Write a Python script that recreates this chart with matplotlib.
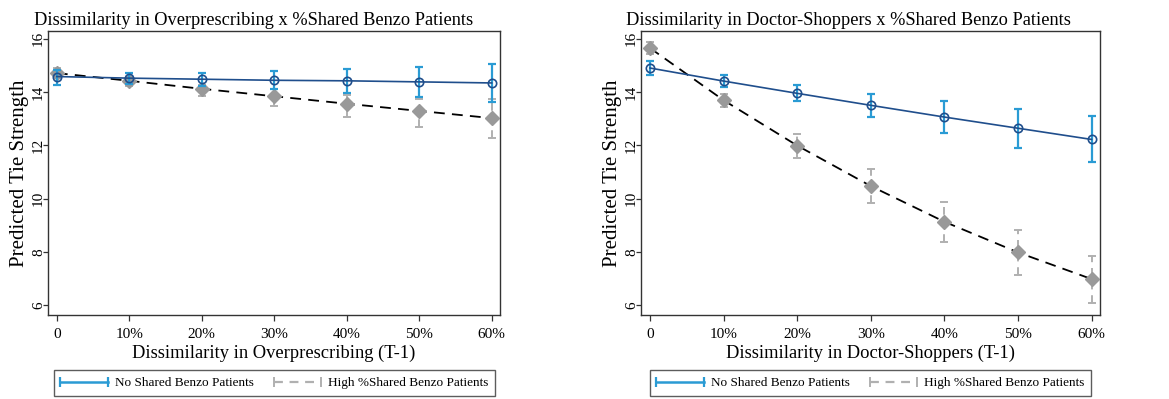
import matplotlib
matplotlib.use("Agg")
import matplotlib.pyplot as plt
from matplotlib.lines import Line2D
from matplotlib.legend_handler import HandlerLine2D
import numpy as np

plt.rcParams['font.family'] = ['Liberation Serif', 'DejaVu Serif']

x_vals = [0, 10, 20, 30, 40, 50, 60]
x_labels = ["0", "10%", "20%", "30%", "40%", "50%", "60%"]

# Left panel: Overprescribing
op_none = [14.58, 14.52, 14.48, 14.44, 14.42, 14.38, 14.34]
op_none_lo = [14.28, 14.31, 14.22, 14.12, 13.95, 13.80, 13.63]
op_none_hi = [14.82, 14.71, 14.71, 14.77, 14.86, 14.94, 15.04]
op_high = [14.71, 14.42, 14.12, 13.84, 13.56, 13.29, 13.02]
op_high_lo = [14.52, 14.22, 13.85, 13.46, 13.08, 12.67, 12.28]
op_high_hi = [14.90, 14.56, 14.27, 14.10, 13.88, 13.75, 13.72]

# Right panel: Doctor-Shoppers
ds_none = [14.90, 14.41, 13.95, 13.50, 13.06, 12.64, 12.22]
ds_none_lo = [14.64, 14.19, 13.65, 13.05, 12.46, 11.90, 11.36]
ds_none_hi = [15.16, 14.62, 14.25, 13.94, 13.65, 13.38, 13.10]
ds_high = [15.65, 13.69, 11.99, 10.47, 9.13, 7.98, 6.98]
ds_high_lo = [15.43, 13.45, 11.54, 9.82, 8.38, 7.14, 6.08]
ds_high_hi = [15.88, 13.91, 12.41, 11.10, 9.89, 8.82, 7.86]

titles = ["Dissimilarity in Overprescribing x %Shared Benzo Patients",
          "Dissimilarity in Doctor-Shoppers x %Shared Benzo Patients"]
xlabels = ["Dissimilarity in Overprescribing (T-1)",
           "Dissimilarity in Doctor-Shoppers (T-1)"]
legend_labels = ["No Shared Benzo Patients", "High %Shared Benzo Patients"]

panels = [
    (op_none, op_none_lo, op_none_hi, op_high, op_high_lo, op_high_hi),
    (ds_none, ds_none_lo, ds_none_hi, ds_high, ds_high_lo, ds_high_hi),
]

BLUE_LINE = "#1f4e8c"
BLUE_CI = "#2a9bd4"
GRAY_MK = "#999999"
GRAY_CI = "#b0b0b0"

fig = plt.figure(figsize=(11.69, 3.99), dpi=100)
rects = [[0.041, 0.2105, 0.3867, 0.7125], [0.5483, 0.2105, 0.3927, 0.7125]]
title_x = [0.2169, 0.7258]
legend_x = [0.2348, 0.7447]

for i, (rect, data) in enumerate(zip(rects, panels)):
    n, nlo, nhi, h, hlo, hhi = [np.array(d, dtype=float) for d in data]
    ax = fig.add_axes(rect)
    xa = np.array(x_vals, dtype=float)
    # High shared: gray dashed CI
    eb = ax.errorbar(xa, h, yerr=[h - hlo, hhi - h], fmt='none', ecolor=GRAY_CI,
                     elinewidth=1.4, capsize=2.7, capthick=1.4, zorder=2)
    for lc in eb[2]:
        lc.set_linestyle((0, (4, 3)))
    ax.plot(xa, h, color='black', linestyle=(0, (6, 4)), linewidth=1.3, zorder=3)
    ax.plot(xa, h, linestyle='none', marker='D', markersize=7, color=GRAY_MK,
            markeredgecolor=GRAY_MK, zorder=4)
    # No shared: blue
    ax.errorbar(xa, n, yerr=[n - nlo, nhi - n], fmt='none', ecolor=BLUE_CI,
                elinewidth=1.6, capsize=2.7, capthick=1.6, zorder=5)
    ax.plot(xa, n, color=BLUE_LINE, linewidth=1.2, marker='o', markersize=6,
            markerfacecolor='none', markeredgecolor=BLUE_LINE, markeredgewidth=1.2,
            zorder=6)

    ax.set_xlim(-1.23, 61.15)
    ax.set_ylim(5.63, 16.3)
    ax.set_xticks(x_vals)
    ax.set_xticklabels(x_labels, fontsize=11)
    ax.set_yticks([6, 8, 10, 12, 14, 16])
    ax.set_yticklabels(["6", "8", "10", "12", "14", "16"], fontsize=11,
                       rotation=90, va='center')
    ax.tick_params(axis='both', direction='out', length=4, width=0.9, colors='#333333',
                   labelcolor='black')
    ax.tick_params(axis='x', pad=5.5)
    ax.tick_params(axis='y', pad=-1.5, length=3.6)
    for s in ax.spines.values():
        s.set_linewidth(1.0)
        s.set_color('#333333')
    fig.text(title_x[i], 0.948, titles[i], fontsize=13.2, ha='center', va='center')
    ax.set_xlabel(xlabels[i], fontsize=13.3, labelpad=2.5)
    ax.set_ylabel("Predicted Tie Strength", fontsize=15)
    ax.yaxis.set_label_coords(-0.042, 0.5)

    handles = [
        Line2D([0], [0], color=BLUE_CI, linewidth=1.8, marker='|', markersize=7,
               markeredgewidth=1.6),
        Line2D([0], [0], color=GRAY_CI, linewidth=1.6, linestyle=(0, (4, 3)),
               marker='|', markersize=7, markeredgewidth=1.4),
    ]
    leg = fig.legend(handles, legend_labels,
                     loc='center', bbox_to_anchor=(legend_x[i], 0.04),
                     ncol=2, fontsize=9.5, frameon=True, fancybox=False,
                     handler_map={Line2D: HandlerLine2D(marker_pad=0, numpoints=2)},
                     handlelength=3.6, borderpad=0.5, handletextpad=0.55,
                     columnspacing=1.5, borderaxespad=0)
    leg.get_frame().set_edgecolor('#333333')
    leg.get_frame().set_linewidth(1.0)

fig.savefig("out.png", dpi=100)
